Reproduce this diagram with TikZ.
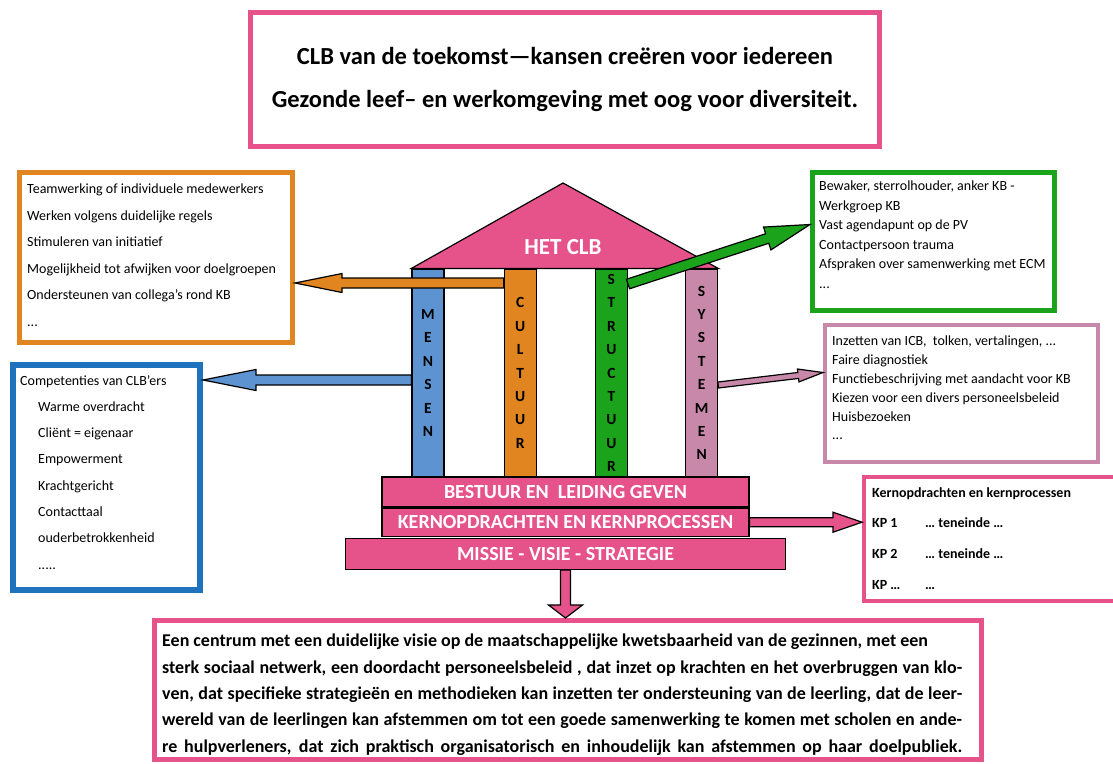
\documentclass[tikz,border=0pt]{standalone}
\usepackage{fontspec}
\setmainfont{Carlito}
\usetikzlibrary{positioning,calc}

\definecolor{clbpink}{HTML}{E6538A}
\definecolor{pillarblue}{HTML}{5E93D1}
\definecolor{boxblue}{HTML}{1F73BE}
\definecolor{cultorange}{HTML}{E0851F}
\definecolor{structgreen}{HTML}{1CA31C}
\definecolor{systmauve}{HTML}{C788A9}

\newcommand{\blockarrow}[6]{%
  \path ($(#3)!#5!(#2)$) coordinate (ah);
  \draw[arrowline, fill=#1] ($(#2)!#4!90:(#3)$) -- ($(ah)!#4!90:(#3)$) -- ($(ah)!#6!90:(#3)$)
    -- (#3) -- ($(ah)!#6!-90:(#3)$) -- ($(ah)!#4!-90:(#3)$) -- ($(#2)!#4!-90:(#3)$) -- cycle;}
\newcommand{\fullline}[1]{\hbox to 800pt{#1}}

\begin{document}
\begin{tikzpicture}[x=1pt, y=-1pt, every node/.style={inner sep=0pt},
	framebox/.style = {draw, line width=5pt, fill=white},
	pillar/.style = {draw, line width=1.2pt, minimum width=32pt, minimum height=208pt,
		align=center, font=\fontsize{15.5}{23.4}\selectfont\bfseries},
	plinth/.style = {draw, line width=1.2pt, fill=clbpink, text=white,
		font=\fontsize{20}{22}\selectfont\bfseries},
	listtext/.style = {align=left, font=\fontsize{14}{26.5}\selectfont},
	arrowline/.style = {draw=black, line width=1.2pt, line join=miter}]
	\useasboundingbox (0,0) rectangle (1113,763);

	\node[framebox, draw=clbpink, minimum width=629pt, minimum height=134pt, align=center,
		font=\fontsize{24.5}{43}\selectfont\bfseries] (title) at (565,79.5)
		{CLB van de toekomst—kansen creëren voor iedereen\\Gezonde leef– en werkomgeving met oog voor diversiteit.};

	\node[framebox, draw=cultorange, minimum width=273pt, minimum height=170pt] (cultbox) at (156,257.5) {};
	\node[listtext, anchor=north west] (culttext) at (27,184)
		{Teamwerking of individuele medewerkers\\Werken volgens duidelijke regels\\Stimuleren van initiatief\\
		Mogelijkheid tot afwijken voor doelgroepen\\Ondersteunen van collega’s rond KB\\...};

	\node[framebox, line width=6pt, draw=boxblue, minimum width=187pt, minimum height=225pt] (mensbox) at (106.5,477.5) {};
	\node[listtext, font=\fontsize{14}{26.3}\selectfont, anchor=north west] (menstext) at (20,375)
		{Competenties van CLB’ers\\\hspace*{18pt}Warme overdracht\\\hspace*{18pt}Cliënt = eigenaar\\
		\hspace*{18pt}Empowerment\\\hspace*{18pt}Krachtgericht\\\hspace*{18pt}Contacttaal\\
		\hspace*{18pt}ouderbetrokkenheid\\\hspace*{18pt}.....};

	\node[framebox, draw=structgreen, minimum width=242pt, minimum height=138pt] (structbox) at (933.5,241.5) {};
	\node[listtext, font=\fontsize{14}{19.5}\selectfont, anchor=north west] (structtext) at (819,181)
		{Bewaker, sterrolhouder, anker KB -\\Werkgroep KB\\Vast agendapunt op de PV\\Contactpersoon trauma\\
		Afspraken over samenwerking met ECM\\...};

	\node[framebox, line width=4pt, draw=systmauve, minimum width=273pt, minimum height=137pt] (systbox) at (961.5,393.5) {};
	\node[listtext, font=\fontsize{14}{18.8}\selectfont, anchor=north west] (systtext) at (832,336)
		{Inzetten van ICB,\ \ tolken, vertalingen, ...\\Faire diagnostiek\\Functiebeschrijving met aandacht voor KB\\
		Kiezen voor een divers personeelsbeleid\\Huisbezoeken\\...};

	\node[framebox, line width=4pt, draw=clbpink, minimum width=256pt, minimum height=124pt] (kpbox) at (992,539) {};
	\node[listtext, font=\fontsize{14}{30.7}\selectfont\bfseries, anchor=north west] (kptext) at (872,487)
		{Kernopdrachten en kernprocessen\\\makebox[53pt][l]{KP 1}… teneinde …\\
		\makebox[53pt][l]{KP 2}… teneinde …\\\makebox[53pt][l]{KP …}…};

	\node[framebox, draw=clbpink, minimum width=827pt, minimum height=139pt] (visie) at (568,690) {};
	\node[align=left, font=\fontsize{18}{26.3}\selectfont\bfseries, anchor=north west] (visietext) at (162,634)
		{Een centrum met een duidelijke visie op de maatschappelijke kwetsbaarheid van de gezinnen, met een\\
		\fullline{sterk sociaal netwerk, een doordacht personeelsbeleid , dat inzet op krachten en het overbruggen van klo-}\\
		\fullline{ven, dat specifieke strategieën en methodieken kan inzetten ter ondersteuning van de leerling, dat de leer-}\\
		\fullline{wereld van de leerlingen kan afstemmen om tot een goede samenwerking te komen met scholen en ande-}\\
		\fullline{re hulpverleners, dat zich praktisch organisatorisch en inhoudelijk kan afstemmen op haar doelpubliek.}};

	\node[pillar, fill=pillarblue] (mensen) at (428,373) {M\\E\\N\\S\\E\\N};
	\node[pillar, fill=cultorange, right=59pt of mensen] (cultuur) {C\\U\\L\\T\\U\\U\\R};
	\node[pillar, fill=structgreen, right=58pt of cultuur] (structuur) {S\\T\\R\\U\\C\\T\\U\\U\\R};
	\node[pillar, fill=systmauve, right=57pt of structuur] (systemen) {S\\Y\\S\\T\\E\\M\\E\\N};

	\coordinate (apex) at (563,183);
	\draw[arrowline, fill=clbpink] (mensen.north west) -- (apex) -- (systemen.north east) -- cycle;
	\node[text=white, font=\fontsize{23}{26}\selectfont\bfseries] (roof) at (563,247) {HET CLB};

	\node[plinth, minimum width=367pt, minimum height=30pt] (bestuur) at (565.5,492) {BESTUUR EN\ \ LEIDING GEVEN};
	\node[plinth, minimum width=367pt, minimum height=28pt, below=0pt of bestuur] (kern) {KERNOPDRACHTEN EN KERNPROCESSEN};
	\node[plinth, minimum width=440pt, minimum height=31pt, below=1pt of kern] (missie) {MISSIE - VISIE - STRATEGIE};

	\coordinate (cultfrom) at ([yshift=90pt]cultuur.west);
	\coordinate (culttip) at (cultfrom -| cultbox.east);
	\coordinate (mensfrom) at ([yshift=-7pt]mensen.west);
	\coordinate (menstip) at (mensfrom -| mensbox.east);
	\coordinate (structfrom) at ([yshift=89pt]structuur.east);
	\coordinate (structtip) at ([yshift=17pt]structbox.west);
	\coordinate (systfrom) at ([yshift=-12pt]systemen.east);
	\coordinate (systtip) at ([yshift=21pt]systbox.west);
	\coordinate (kptip) at (kern.east -| kpbox.west);
	\coordinate (visietip) at (missie.south |- visie.north);

	\blockarrow{cultorange}{cultfrom}{culttip}{5pt}{47pt}{9.5pt}
	\blockarrow{pillarblue}{mensfrom}{menstip}{5pt}{53pt}{10.5pt}
	\blockarrow{structgreen}{structfrom}{structtip}{5pt}{45pt}{12pt}
	\blockarrow{systmauve}{systfrom}{systtip}{3pt}{25pt}{6.5pt}
	\blockarrow{clbpink}{kern.east}{kptip}{4.5pt}{29pt}{10pt}
	\blockarrow{clbpink}{missie.south}{visietip}{5pt}{13pt}{17pt}
\end{tikzpicture}
\end{document}
